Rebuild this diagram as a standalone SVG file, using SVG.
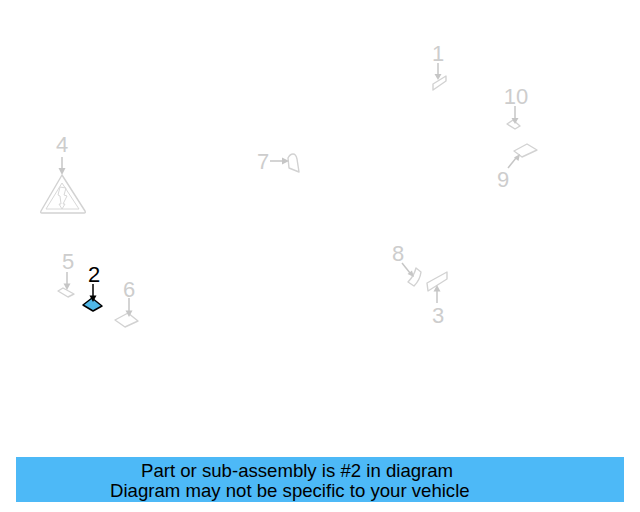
<svg xmlns="http://www.w3.org/2000/svg" width="640" height="512" viewBox="0 0 640 512">
<style>
text{font-family:"Liberation Sans",Arial,sans-serif}
.n{font-size:22px;fill:#cdcdcd;text-anchor:middle}
.p{fill:none;stroke:#d2d2d2;stroke-width:1.400;stroke-linejoin:round}
.t{fill:none;stroke:#d8d8d8;stroke-width:1;stroke-linejoin:round}
.c{fill:none;stroke:#c6c6c6;stroke-width:1.500}
.h{fill:#c6c6c6}
.b{font-size:18.600px;fill:#000}
</style>
<rect width="640" height="512" fill="#fff"/>
<g id="node-1"><text class="n" x="438" y="61">1</text><path class="p" d="M433 84L446 76V81L433 90Z"/></g>
<g id="node-2"><path d="M83 305L92 298L102 306L93 311Z" fill="#4fb8e8" stroke="#000" stroke-width="1.500" stroke-linejoin="round"/><text x="94" y="282" font-size="22" text-anchor="middle" fill="#000">2</text></g>
<g id="node-3"><path class="p" d="M427 283L447 272V279L428 291Z"/><text class="n" x="438" y="323">3</text></g>
<g id="node-4"><text class="n" x="62" y="152">4</text>
<path class="p" d="M62 175L85 211Q86 213 84 213H42Q40 213 41 211Z"/>
<path class="t" d="M62 183L79 209H46Z"/>
<path class="t" d="M60 187L66 188L64 195L67 196L63 204L65 204L62 209L59 204L61 204L60 196L58 195Z"/></g>
<g id="node-5"><text class="n" x="68" y="269">5</text><path class="p" d="M58 291L63 288L74 294L68 297Z"/></g>
<g id="node-6"><text class="n" x="129" y="297">6</text><path class="p" d="M115 320L128 313L138 321L125 327Z"/></g>
<g id="node-7"><text class="n" x="263" y="169">7</text><path class="p" d="M288 158Q290 154 293 154Q296 154 297 159L299 172L289 168Z"/></g>
<g id="node-8"><text class="n" x="398" y="261">8</text><path class="p" d="M416 268L421 272Q420 280 414 286L408 282Q414 276 416 268Z"/></g>
<g id="node-9"><path class="p" d="M514 151L527 144L537 150L522 157Z"/><text class="n" x="503" y="187">9</text></g>
<g id="node-10"><text class="n" x="516" y="104">10</text><path class="p" d="M507 124L513 120L520 126L515 129Z"/></g>
<g id="connectors">
<path class="c" d="M438 63V75"/><path class="h" d="M438 80l-3.500-6h7z"/>
<path class="c" d="M515 106V119"/><path class="h" d="M515 124l-3.500-6h7z"/>
<path class="c" d="M508 168L516 158"/><path class="h" d="M520 154l-1.500 7-4.500-3.500z"/>
<path class="c" d="M62 157V168"/><path class="h" d="M62 175l-3.500-7h7z"/>
<path class="c" d="M270 161H283"/><path class="h" d="M289 161l-7-3.500v7z"/>
<path class="c" d="M67 272V284"/><path class="h" d="M67 290l-3.500-6.500h7z"/>
<path class="c" d="M129 298V311"/><path class="h" d="M129 317l-3.500-6.500h7z"/>
<path class="c" d="M402 263L410 273"/><path class="h" d="M414 277l-6.500-3 4.500-3.500z"/>
<path class="c" d="M437 303V291"/><path class="h" d="M437 285l-3.500 6.500h7z"/>
<path d="M93 284V296" fill="none" stroke="#000" stroke-width="1.500"/><path d="M93 302l-3.500-6.500h7z" fill="#000"/>
</g>
<g id="banner"><rect x="16" y="457" width="608" height="45" fill="#4db9f7"/>
<text class="b" x="141" y="477">Part or sub-assembly is #2 in diagram</text>
<text class="b" x="110" y="497">Diagram may not be specific to your vehicle</text></g>
</svg>
